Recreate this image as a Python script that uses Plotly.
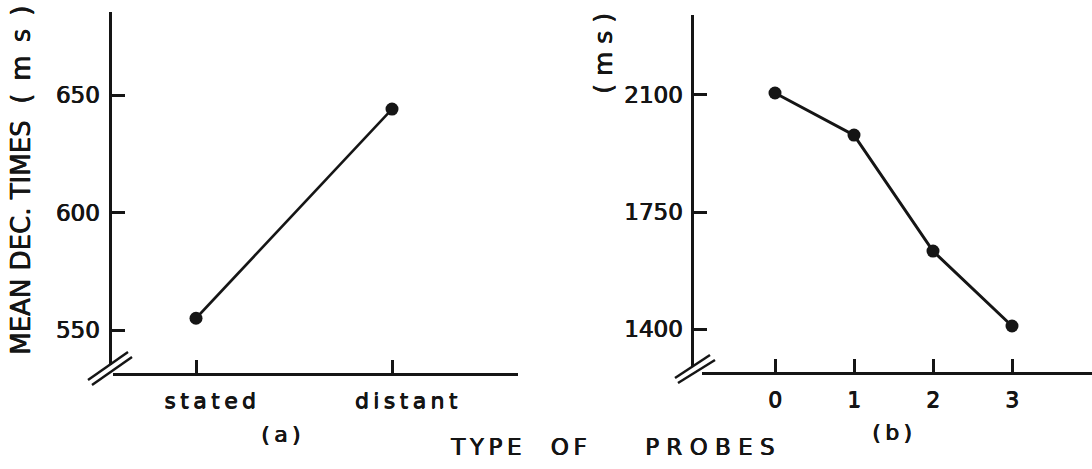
import plotly.graph_objects as go

W, H = 1092, 469

# ---- data ----
probe_types_a = ["stated", "distant"]
times_a = [555, 644]
ticks_a = [550, 600, 650]

probe_counts_b = [0, 1, 2, 3]
times_b = [2106, 1980, 1633, 1409]
ticks_b = [1400, 1750, 2100]

y_title = "MEAN DEC. TIMES\u00a0\u00a0(\u2002m\u2002s\u2002)"
unit_b = "( m s )"
x_title = "T\u2009Y\u2009P\u2009E" + "\u00a0" * 4 + "O\u2009F" + "\u00a0" * 8 + "P R O B E S"
panel_labels = ["(\u2009a\u2009)", "(\u2009b\u2009)"]

INK = "#151515"
FONT = "DejaVu Sans"
SHADOW = "0.7px 0px 0px #151515, 0px 0.4px 0px #151515"

def px(x):
    return x / W

def py(y):
    return 1 - y / H

def spaced(s):
    return "\u2009".join(list(s))

def fnt(size):
    return dict(family=FONT, size=size, color=INK, shadow=SHADOW)

fig = go.Figure()

fig.add_trace(go.Scatter(
    x=probe_types_a, y=times_a, xaxis="x", yaxis="y",
    mode="lines+markers",
    line=dict(color=INK, width=2.6),
    marker=dict(color=INK, size=13),
    showlegend=False, cliponaxis=False,
))
fig.add_trace(go.Scatter(
    x=probe_counts_b, y=times_b, xaxis="x2", yaxis="y2",
    mode="lines+markers",
    line=dict(color=INK, width=3),
    marker=dict(color=INK, size=13),
    showlegend=False, cliponaxis=False,
))

common_axis = dict(
    showline=True, linecolor=INK, linewidth=2.6,
    ticks="inside", ticklen=13, tickwidth=2.6, tickcolor=INK,
    showgrid=False, zeroline=False,
    fixedrange=True,
)

sa = 196.0  # px per category step in panel (a)
fig.update_layout(
    xaxis=dict(
        common_axis, type="category",
        domain=[px(113), px(518)],
        range=[(113 - 196) / sa, (518 - 196) / sa],
        anchor="free", position=py(374),
        tickvals=probe_types_a,
        ticktext=["\u00a0\u00a0\u00a0\u00a0" + spaced(t) for t in probe_types_a],
        tickfont=fnt(22),
        ticklabelstandoff=6,
    ),
    yaxis=dict(
        common_axis,
        domain=[py(365), py(12)],
        range=[550 - (365 - 330) / 2.35, 650 + (95 - 12) / 2.35],
        anchor="free", position=px(110),
        tickvals=ticks_a,
        tickfont=fnt(23),
        ticklabelstandoff=5,
    ),
    xaxis2=dict(
        common_axis,
        domain=[px(702), 1.0],
        range=[(702 - 775) / 79.0, (1092 - 775) / 79.0],
        anchor="free", position=py(373),
        tickvals=probe_counts_b,
        tickfont=fnt(22),
        ticklabelstandoff=6,
    ),
    yaxis2=dict(
        common_axis,
        domain=[py(367), py(15)],
        range=[1400 - (367 - 329) * 2.991, 2100 + (95 - 15) * 2.991],
        anchor="free", position=px(692),
        tickvals=ticks_b,
        tickfont=fnt(23),
        ticklabelstandoff=4,
    ),
)

def note(x, y, text, size, angle=0):
    return dict(x=px(x), y=py(y), xref="paper", yref="paper",
                xanchor="center", yanchor="middle",
                text=text, textangle=angle, showarrow=False,
                font=fnt(size))

ann = [
    note(21, 181, y_title, 26, -90),
    note(603, 54, unit_b, 25, -90),
    note(612, 447, x_title, 23),
    note(280, 434, panel_labels[0], 22),
    note(892, 432, panel_labels[1], 22),
]

# axis-break marks
shapes = []
for (x0, y0, x1, y1) in [(88, 380, 128, 352), (92, 385, 132, 357),
                         (675, 378, 710, 355), (678, 383, 715, 360)]:
    shapes.append(dict(type="line", xref="paper", yref="paper",
                       x0=px(x0), y0=py(y0), x1=px(x1), y1=py(y1),
                       line=dict(color=INK, width=2.5)))

fig.update_layout(
    width=W, height=H,
    margin=dict(l=0, r=0, t=0, b=0),
    paper_bgcolor="white", plot_bgcolor="white",
    annotations=ann, shapes=shapes,
)

fig.write_html("out.html", config={"displayModeBar": False},
               post_script="document.body.style.margin='0';document.body.style.overflow='hidden';")
